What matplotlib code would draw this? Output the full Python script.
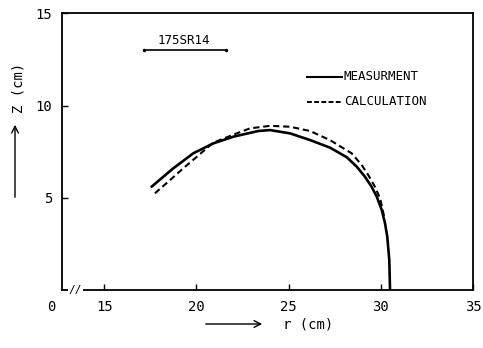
import matplotlib
matplotlib.use("Agg")
import matplotlib.pyplot as plt

# Data
meas_r = [17.57, 18.75, 19.83, 20.92, 22.0, 23.36, 23.99, 25.08, 26.16, 27.24, 28.15, 28.7, 29.14, 29.5, 29.78, 30.05, 30.23, 30.35, 30.46, 30.5]
meas_z = [5.60, 6.60, 7.41, 7.95, 8.31, 8.62, 8.67, 8.49, 8.13, 7.72, 7.2, 6.68, 6.14, 5.6, 5.06, 4.34, 3.61, 2.89, 1.63, 0.0]
calc_r = [17.75, 18.57, 19.29, 20.02, 20.9, 22.0, 22.9, 23.99, 25.08, 26.16, 27.24, 28.42, 28.96, 29.32, 29.68, 29.96, 30.2]
calc_z = [5.24, 5.96, 6.6, 7.22, 7.98, 8.42, 8.76, 8.9, 8.85, 8.62, 8.13, 7.41, 6.78, 6.23, 5.6, 4.97, 3.9]
x_ticks = [15, 20, 25, 30, 35]
y_ticks = [5, 10, 15]
sample_label = "175SR14"
legend_labels = ["MEASURMENT", "CALCULATION"]

plt.rcParams['font.family'] = ['DejaVu Sans Mono', 'DejaVu Sans']

fig = plt.figure(figsize=(4.83, 3.48), dpi=100)
ax = fig.add_axes([62/483, 1 - 290/348, (473-62)/483, (290-13.3)/348])
ax.set_xlim(12.71, 35)
ax.set_ylim(0, 15)

ax.plot(meas_r, meas_z, color='black', lw=1.9, solid_joinstyle='round', solid_capstyle='round')
ax.plot(calc_r, calc_z, color='black', lw=1.5, ls=(0, (3, 1.8)))

ax.set_xticks(x_ticks)
ax.set_yticks(y_ticks)
ax.tick_params(direction='in', length=4, width=1, labelsize=10, pad=7)
for s in ax.spines.values():
    s.set_linewidth(1.3)

# extra "0" label at broken axis
ax.text(12.15, -0.55, "0", ha='center', va='top', fontsize=10, clip_on=False)
# axis break marks
ax.text(13.45, 0.0, "//", ha='center', va='center', fontsize=8,
        clip_on=False, bbox=dict(facecolor='white', edgecolor='none', pad=0.3))

# sample label with underline
ax.text(19.3, 13.2, sample_label, ha='center', va='bottom', fontsize=9)
ax.plot([17.15, 21.6], [13.0, 13.0], color='black', lw=1.2)
ax.plot([17.15, 21.6], [13.0, 13.0], 'k.', ms=3)

# legend
ax.plot([26.0, 27.9], [11.55, 11.55], color='black', lw=1.5)
ax.text(28.0, 11.55, legend_labels[0], ha='left', va='center', fontsize=9)
ax.plot([26.0, 27.9], [10.2, 10.2], color='black', lw=1.4, ls=(0, (2.5, 1.2)))
ax.text(28.0, 10.2, legend_labels[1], ha='left', va='center', fontsize=9)

# x label with arrow
fig.patches.append(matplotlib.patches.FancyArrowPatch(
    (203/483, 1 - 324/348), (265/483, 1 - 324/348), transform=fig.transFigure,
    arrowstyle='->', mutation_scale=12, lw=1, color='black'))
fig.text(308/483, 1 - 324/348, "r (cm)", ha='center', va='center', fontsize=10)

# y label with arrow
fig.patches.append(matplotlib.patches.FancyArrowPatch(
    (15/483, 1 - 200/348), (15/483, 1 - 122/348), transform=fig.transFigure,
    arrowstyle='->', mutation_scale=12, lw=1, color='black'))
fig.text(18/483, 1 - 88/348, "Z (cm)", ha='center', va='center', fontsize=10, rotation=90)

fig.savefig("out.png", dpi=100)
